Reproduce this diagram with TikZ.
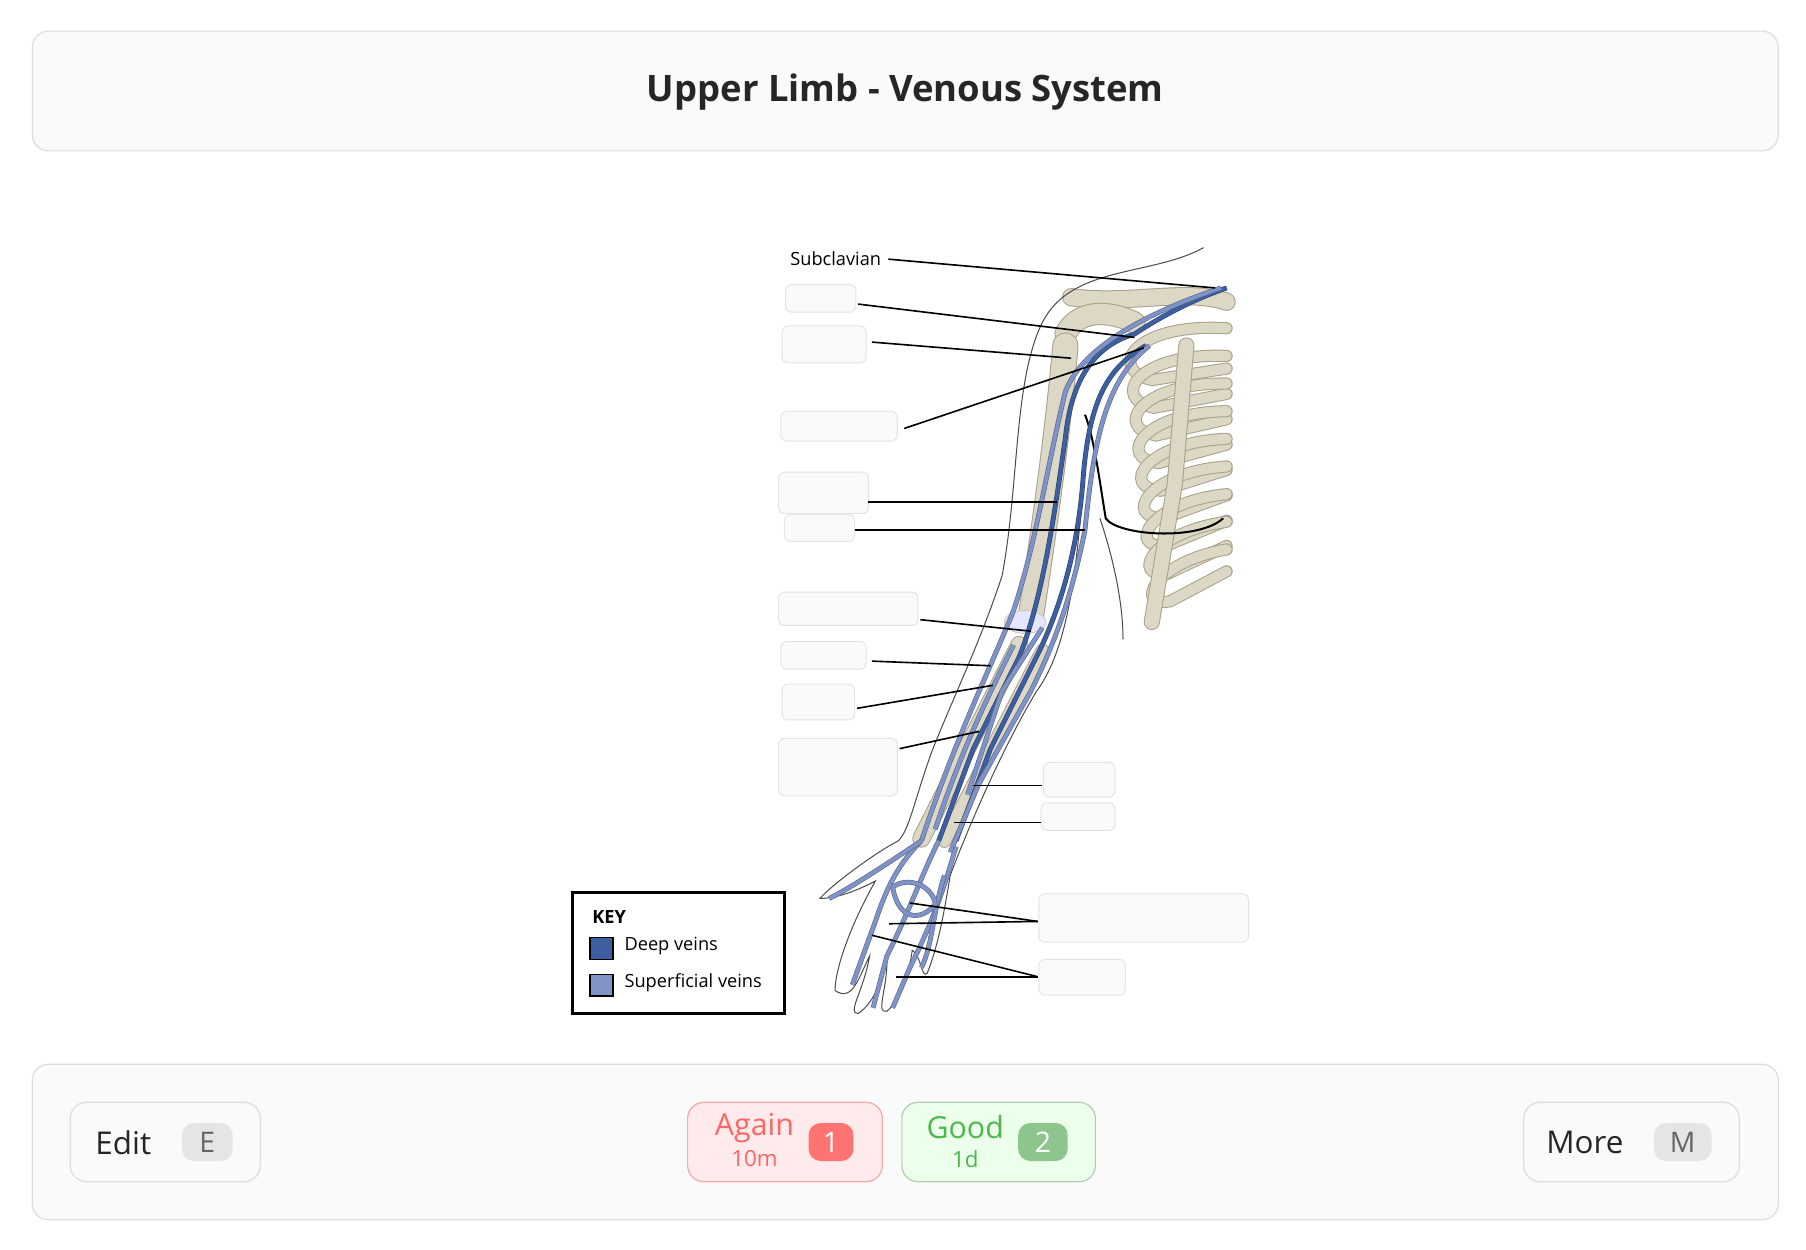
\documentclass[tikz,border=0pt]{standalone}
\usepackage{fontspec}
\setmainfont{Open Sans}
\begin{document}
\definecolor{panel}{HTML}{FAFAFA}
\definecolor{edge}{HTML}{DDDDDD}
\definecolor{bone}{HTML}{DDD8C6}
\definecolor{boneedge}{HTML}{A9A18A}
\definecolor{deep}{HTML}{3D5FA0}
\definecolor{sup}{HTML}{8093C6}
\begin{tikzpicture}[x=0.02cm,y=-0.02cm,
  panelbox/.style={draw=edge,fill=panel,rounded corners=8pt,line width=0.6pt},
  blank/.style={draw=edge!80,fill=panel,rounded corners=3pt,line width=0.5pt},
  lead/.style={line width=0.8pt,black},
  bonep/.style={draw=boneedge,double=bone,double distance=5pt,line width=0.5pt,line cap=round},
  dv/.style={draw=deep!70!black,double=deep,double distance=1.8pt,line width=0.3pt},
  sv/.style={draw=sup!70!black,double=sup,double distance=1.8pt,line width=0.3pt},
  skin/.style={draw=black!70,line width=0.5pt},
  btn/.style={draw=edge,fill=panel,rounded corners=8pt,line width=0.6pt},
  keyb/.style={fill=black!10,rounded corners=6pt}]
\useasboundingbox (0,0) rectangle (1568,1085);
\fill[white] (0,0) rectangle (1568,1085);
% title
\node[panelbox,minimum width=30.32cm,minimum height=2.08cm] (title) at (786,79) {};
\node[font=\bfseries\fontsize{18}{22}\selectfont,text=black!85] (tt) at (786,80) {Upper Limb - Venous System};
% image area
\fill[white] (486,208) rectangle (1084,886);
% ribcage
\foreach \i in {0,...,8}{
  \draw[bonep] (1065,{285+\i*24}) .. controls ({985+\i*2},{280+\i*26}) and ({960+\i*3},{320+\i*26}) .. ({1000+\i*2},{330+\i*24}) -- (1065,{320+\i*22});
}
\draw[bonep,double distance=7pt] (1030,300) -- (1020,420) -- (1000,540);
% clavicle & scapula
\draw[bonep,double distance=8pt] (930,258) .. controls (980,265) and (1030,250) .. (1065,262);
\draw[bonep,double distance=10pt] (925,290) .. controls (935,270) and (960,268) .. (985,280);
% humerus
\draw[bonep,double distance=12pt] (925,300) .. controls (918,380) and (905,470) .. (895,535);
\fill[blue!10!white,draw=boneedge!60] (890,540) ellipse (18 and 10);
% forearm bones
\draw[bonep,double distance=8pt] (885,560) -- (800,728);
\draw[bonep,double distance=6pt] (905,565) -- (820,730);
% skin outline
\draw[skin] (1045,215) .. controls (1000,240) and (930,230) .. (905,280) .. controls (880,330) and (885,420) .. (870,500) .. controls (850,560) and (830,600) .. (810,650) .. controls (795,690) and (790,720) .. (780,730) .. controls (760,740) and (720,770) .. (712,780) .. controls (730,780) and (750,770) .. (760,765)
 .. controls (740,800) and (725,840) .. (725,860) .. controls (740,870) and (745,850) .. (755,830)
 .. controls (750,860) and (735,880) .. (745,880) .. controls (760,870) and (765,850) .. (770,835)
 .. controls (770,860) and (760,880) .. (770,878) .. controls (785,865) and (790,840) .. (792,825)
 .. controls (800,830) and (800,850) .. (805,845) .. controls (815,820) and (820,790) .. (825,760)
 .. controls (840,720) and (870,650) .. (900,600) .. controls (930,560) and (935,480) .. (940,430);
\draw[skin] (955,450) .. controls (965,480) and (975,520) .. (975,555);
\draw[black,line width=1pt] (942,360) .. controls (950,380) and (955,420) .. (960,450) .. controls (970,465) and (1040,470) .. (1062,450);
% veins
\draw[dv] (1065,250) .. controls (1030,262) and (1000,280) .. (985,290) .. controls (950,300) and (930,330) .. (925,380) .. controls (915,450) and (905,520) .. (885,570) -- (845,650) -- (815,730);
\draw[dv] (995,300) .. controls (960,320) and (945,350) .. (940,420) .. controls (935,480) and (920,530) .. (900,570) -- (860,650) -- (830,730);
\draw[sv] (1060,250) .. controls (1000,270) and (940,300) .. (925,340) .. controls (910,400) and (900,470) .. (880,530) .. controls (860,580) and (830,640) .. (800,730);
\draw[sv] (998,300) .. controls (960,330) and (950,380) .. (942,460) .. controls (930,520) and (915,560) .. (895,600) -- (850,680) -- (825,740);
\draw[sv] (880,560) .. controls (860,600) and (835,650) .. (812,720);
\draw[sv] (905,545) -- (870,600) -- (840,690);
% hand veins
\draw[sv] (800,730) .. controls (780,750) and (770,770) .. (760,800) -- (740,855);
\draw[sv] (815,730) .. controls (800,760) and (790,790) .. (770,830) -- (758,875);
\draw[sv] (830,735) .. controls (820,770) and (810,800) .. (790,840) -- (775,875);
\draw[sv] (820,760) .. controls (810,790) and (810,820) .. (800,840);
\draw[sv] (800,730) .. controls (770,750) and (740,770) .. (720,780);
\draw[sv] (775,770) .. controls (790,760) and (810,770) .. (812,785) .. controls (800,800) and (780,800) .. (775,770);
% subclavian label
\node[font=\small,anchor=west] (subl) at (680,225) {Subclavian};
\coordinate (s0) at (1055,250);
\draw[lead] (subl.east) -- (s0);
% blank boxes
\foreach \n/\a/\b/\c/\d in {b1/682/247/743/271, b2/679/283/752/315, b3/678/357/779/383, b4/676/410/754/446, b5/681/447/742/470, b6/676/514/797/543, b7/678/557/752/581, b8/679/594/742/625, b9/676/641/779/691, b10/906/662/968/692, b11/904/697/968/721, b12/902/776/1084/818, b13/902/833/977/864}{
  \draw[blank] (\a,\b) rectangle (\c,\d);
  \coordinate (\n) at ({(\a+\c)/2},{(\b+\d)/2});
}
\coordinate (t1) at (985,293); \coordinate (t2) at (930,311); \coordinate (t3) at (993,302);
\coordinate (t4) at (918,436); \coordinate (t5) at (942,460); \coordinate (t6) at (895,548);
\coordinate (t7) at (860,578); \coordinate (t8) at (862,595); \coordinate (t9) at (850,635);
\coordinate (t10) at (845,682); \coordinate (t11) at (828,714);
\coordinate (t12a) at (790,784); \coordinate (t12b) at (772,802);
\coordinate (t13a) at (757,812); \coordinate (t13b) at (778,848);
\draw[lead] (745,264) -- (t1);
\draw[lead] (757,297) -- (t2);
\draw[lead] (785,372) -- (t3);
\draw[lead] (754,436) -- (t4);
\draw[lead] (742,460) -- (t5);
\draw[lead] (799,538) -- (t6);
\draw[lead] (757,574) -- (t7);
\draw[lead] (744,615) -- (t8);
\draw[lead] (781,650) -- (t9);
\draw[lead] (905,682) -- (t10);
\draw[lead] (904,714) -- (t11);
\draw[lead] (901,800) -- (t12a); \draw[lead] (901,800) -- (t12b);
\draw[lead] (901,848) -- (t13a); \draw[lead] (901,848) -- (t13b);
% key
\draw[line width=1.2pt] (497,775) rectangle (681,880);
\node[font=\small\bfseries,anchor=west] (key) at (508,796) {KEY};
\draw[fill=deep,line width=0.8pt] (512,814) rectangle (532,833);
\draw[fill=sup,line width=0.8pt] (512,846) rectangle (532,865);
\node[font=\small,anchor=west] (kd) at (536,821) {Deep veins};
\node[font=\small,anchor=west] (ks) at (536,853) {Superficial veins};
% bottom bar
\draw[panelbox] (28,924) rectangle (1544,1059);
\draw[btn] (61,957) rectangle (226,1026);
\node[font=\fontsize{15.5}{19}\selectfont,text=black!85] (edit) at (107,992) {Edit};
\fill[keyb] (158,975) rectangle (202,1008);
\node[font=\fontsize{14}{17}\selectfont,text=black!60] (ek) at (180,992) {E};
\draw[btn,fill=red!8,draw=red!35] (597,957) rectangle (766,1026);
\node[font=\fontsize{15}{18}\selectfont,text=red!60] (ag) at (655,979) {Again};
\node[font=\fontsize{11}{13}\selectfont,text=red!60] (agt) at (655,1006) {10m};
\fill[red!55,rounded corners=6pt] (702,975) rectangle (741,1008);
\node[font=\fontsize{14}{17}\selectfont,text=white] (a1) at (721.5,992) {1};
\draw[btn,fill=green!8,draw=green!35!black!30] (783,957) rectangle (951,1026);
\node[font=\fontsize{15}{18}\selectfont,text=green!60!black!70] (gd) at (838,979) {Good};
\node[font=\fontsize{11}{13}\selectfont,text=green!60!black!70] (gdt) at (838,1006) {1d};
\fill[green!50!black!45,rounded corners=6pt] (884,975) rectangle (927,1008);
\node[font=\fontsize{14}{17}\selectfont,text=white] (g2) at (905.5,992) {2};
\draw[btn] (1323,957) rectangle (1510,1026);
\node[font=\fontsize{15.5}{19}\selectfont,text=black!85] (more) at (1376,992) {More};
\fill[keyb] (1436,975) rectangle (1486,1008);
\node[font=\fontsize{14}{17}\selectfont,text=black!60] (mk) at (1461,992) {M};
\end{tikzpicture}
\end{document}
